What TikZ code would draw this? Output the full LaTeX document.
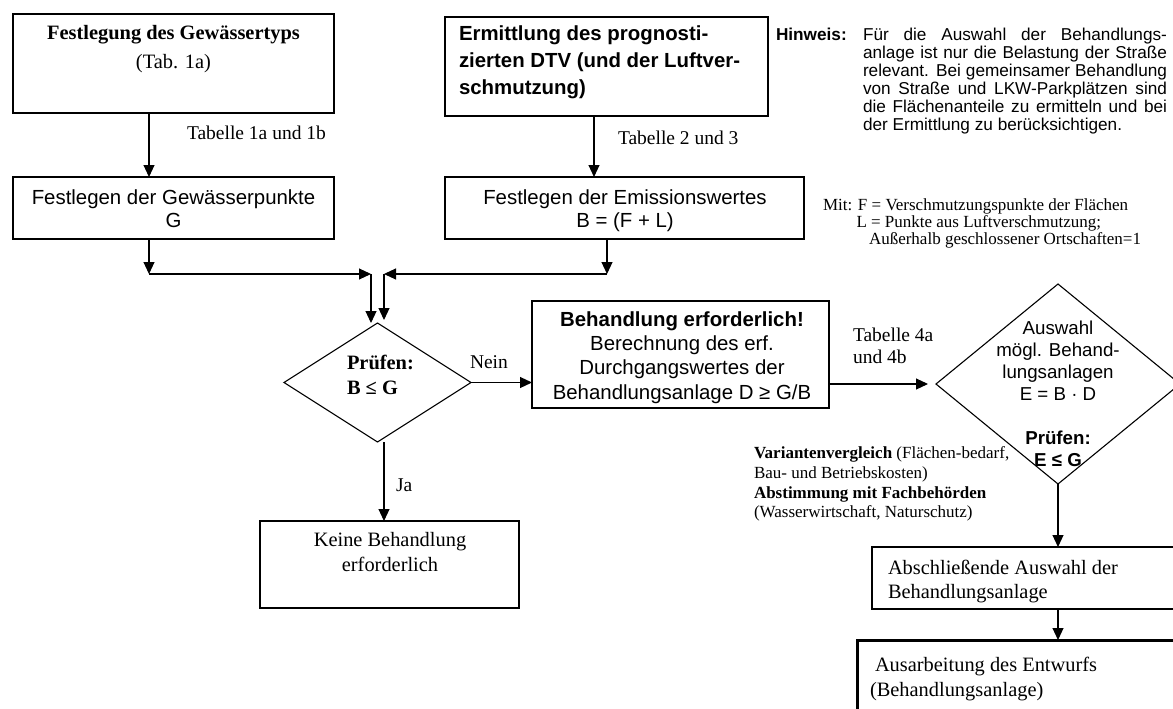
\documentclass[tikz,border=0pt]{standalone}
\usepackage{fontspec}
\setmainfont{Liberation Serif}
\setsansfont{Liberation Sans}
\usetikzlibrary{arrows.meta,shapes.geometric,calc}
\begin{document}
\begin{tikzpicture}[x=1pt,y=-1pt,
  box/.style={draw,line width=1.1pt,rectangle,inner sep=0pt,outer sep=0pt},
  thickbox/.style={box,line width=3pt},
  dia/.style={draw,line width=1.1pt,diamond,inner sep=0pt,outer sep=0pt},
  arr/.style={line width=1.1pt,-{Triangle[length=12pt,width=11pt]}},
  txt/.style={inner sep=0pt,outer sep=0pt},
  serifbig/.style={txt,font=\rmfamily\fontsize{20.4}{24}\selectfont},
  sansbig/.style={txt,font=\sffamily\fontsize{20.4}{23}\selectfont},
  lbl/.style={txt,font=\rmfamily\fontsize{19.5}{22}\selectfont},
  note/.style={txt,font=\rmfamily\fontsize{17}{19.7}\selectfont},
]
\useasboundingbox (0,0) rectangle (1173,709);
\clip (0,0) rectangle (1173,709);

% boxes
\node[box,minimum width=321pt,minimum height=99pt] (b1) at (173.5,63.5) {};
\node[box,minimum width=321pt,minimum height=62pt] (b2) at (173.5,208) {};
\node[box,minimum width=323pt,minimum height=99pt] (b3) at (606.5,66.5) {};
\node[box,minimum width=359pt,minimum height=62pt] (b4) at (624.5,208) {};
\node[box,minimum width=297pt,minimum height=107pt] (b5) at (680.5,354.5) {};
\node[box,minimum width=259pt,minimum height=87pt] (kb) at (389.5,564.5) {};
\node[box,minimum width=323pt,minimum height=62pt] (b6) at (1033.5,578) {};
\node[thickbox,minimum width=338pt,minimum height=100pt] (b7) at (1026,690) {};
\node[dia,minimum width=187pt,minimum height=119pt] (d1) at (377.5,382.5) {};
\node[dia,minimum width=244pt,minimum height=200pt] (d2) at (1058,384) {};

% box texts
\node[serifbig,anchor=north,align=center,font=\rmfamily\fontsize{20.4}{29}\selectfont] (t1) at (173.5,25.5)
  {\textbf{Festlegung des Gewässertyps}\\(Tab. 1a)};
\node[sansbig,anchor=north,align=center] (t2) at (173.5,189.5)
  {Festlegen der Gewässerpunkte\\G};
\node[sansbig,anchor=north west,align=left,font=\sffamily\bfseries\fontsize{20.4}{27}\selectfont] (t3) at (459,25.5)
  {Ermittlung des prognosti-\\zierten DTV (und der Luftver-\\schmutzung)};
\node[sansbig,anchor=north,align=center] (t4) at (625,189.5)
  {Festlegen der Emissionswertes\\B = (F + L)};
\node[sansbig,anchor=north,align=center,font=\sffamily\fontsize{20.4}{24.3}\selectfont] (t5) at (682,311.5)
  {\textbf{Behandlung erforderlich!}\\Berechnung des erf.\\Durchgangswertes der\\Behandlungsanlage D ≥ G/B};
\node[serifbig,anchor=north west,align=left,font=\rmfamily\bfseries\fontsize{20.4}{25}\selectfont] (td1) at (347,355.5)
  {Prüfen:\\B ≤ G};
\node[serifbig,anchor=north,align=center,font=\rmfamily\fontsize{20.4}{25}\selectfont] (tkb) at (390,532.5)
  {Keine Behandlung\\erforderlich};
\node[txt,anchor=north,align=center,font=\sffamily\fontsize{18.7}{22}\selectfont] (td2) at (1058,321)
  {Auswahl\\mögl. Behand-\\lungsanlagen\\E = B · D\\[22pt]\textbf{Prüfen:}\\\textbf{E ≤ G}};
\node[serifbig,anchor=north west,align=left] (t6) at (888,560.5)
  {Abschließende Auswahl der\\Behandlungsanlage};
\node[serifbig,anchor=north west,align=left,font=\rmfamily\fontsize{20.4}{25}\selectfont] (t7) at (870,657.5)
  {\hspace*{5pt}Ausarbeitung des Entwurfs\\(Behandlungsanlage)};

% notes
\node[txt,anchor=north west,font=\sffamily\bfseries\fontsize{17.2}{18}\selectfont] (hw) at (776,28) {Hinweis:};
\node[txt,anchor=north west,align=left,font=\sffamily\fontsize{17.2}{18}\selectfont] (hwt) at (863,28)
  {\makebox[304pt][s]{Für die Auswahl der Behandlungs-}\\
   \makebox[304pt][s]{anlage ist nur die Belastung der Straße}\\
   \makebox[304pt][s]{relevant. Bei gemeinsamer Behandlung}\\
   \makebox[304pt][s]{von Straße und LKW-Parkplätzen sind}\\
   \makebox[304pt][s]{die Flächenanteile zu ermitteln und bei}\\
   der Ermittlung zu berücksichtigen.};
\node[note,anchor=north west,align=left,font=\rmfamily\fontsize{17}{17}\selectfont] (mit) at (823,198.7)
  {Mit: F = Verschmutzungspunkte der Flächen\\
   \hspace*{33.5pt}L = Punkte aus Luftverschmutzung;\\
   \hspace*{46pt}Außerhalb geschlossener Ortschaften=1};
\node[note,anchor=north west,align=left] (var) at (754,446.7)
  {\textbf{Variantenvergleich} (Flächen-bedarf,\\
   Bau- und Betriebskosten)\\
   \textbf{Abstimmung mit Fachbehörden}\\
   (Wasserwirtschaft, Naturschutz)};

% connector labels
\node[lbl,anchor=west] (l1) at (187,133) {Tabelle 1a und 1b};
\node[lbl,anchor=west] (l2) at (618,138) {Tabelle 2 und 3};
\node[lbl,anchor=west] (lnein) at (470,362) {Nein};
\node[lbl,anchor=west] (lja) at (396,485) {Ja};
\node[lbl,anchor=north west,align=left] (l4) at (853,327.8) {Tabelle 4a\\und 4b};

% connectors
\coordinate (xe) at (149,0);
\coordinate (xf) at (594,0);
\coordinate (xa) at (149,274);
\coordinate (xb) at (371,274);
\coordinate (xc) at (384,274);
\coordinate (xd) at (607,274);
\coordinate (ea) at (371,323);
\coordinate (eb) at (384,320);
\coordinate (xg) at (384,0);

\draw[arr] (b1.south -| xe) -- (b2.north -| xe);
\draw[arr] (b3.south -| xf) -- (b4.north -| xf);
\draw[arr] (b2.south -| xa) -- (xa);
\draw[arr] (xa) -- (xb);
\draw[arr] (xb) -- (ea);
\draw[arr] (b4.south -| xd) -- (xd);
\draw[arr] (xd) -- (xc);
\draw[arr] (xc) -- (eb);
\draw[arr] (d1.east) -- (d1.east -| b5.west);
\draw[arr,shorten >=8pt] (b5.east |- d2.west) -- (d2.west);
\draw[arr] (d1.south -| xg) -- (kb.north -| xg);
\draw[arr] (d2.south) -- (d2.south |- b6.north);
\draw[arr] (b6.south -| d2.south) -- (b7.north -| d2.south);
\end{tikzpicture}
\end{document}
